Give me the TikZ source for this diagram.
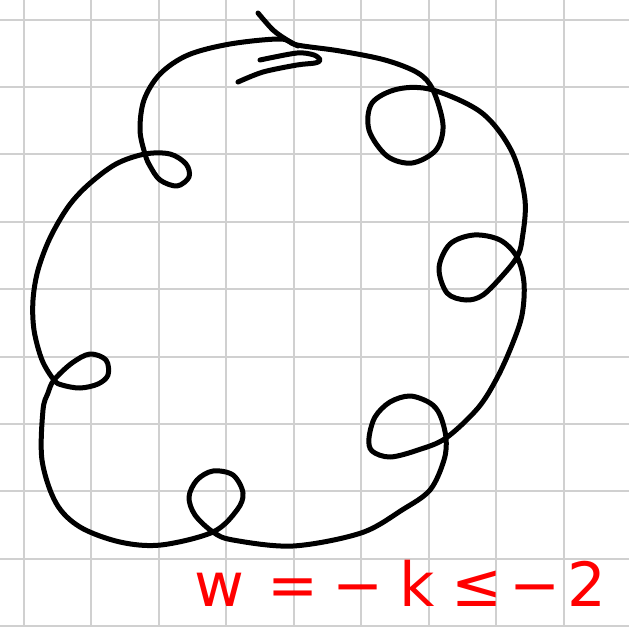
\documentclass[tikz,border=0pt]{standalone}
\usepackage{fontspec}
\newfontfamily\handfont{DejaVu Sans}
\definecolor{gridgray}{HTML}{D0D0D0}
\definecolor{inkred}{HTML}{FF0000}
\begin{document}
\begin{tikzpicture}[x=1pt,y=-1pt,
  ink/.style={line width=5pt, line cap=round, line join=round},
  gridline/.style={gridgray, line width=2pt}]
\useasboundingbox (0,0) rectangle (629,627);
\fill[white] (0,0) rectangle (629,627);
\foreach \i in {0,...,8} \draw[gridline] ({24+67.45*\i},0) -- ({24+67.45*\i},627);
\foreach \j in {0,...,9} \draw[gridline] (0,{19.5+67.4*\j}) -- (629,{19.5+67.4*\j});
% the knot diagram
\draw[ink] plot[smooth cycle, tension=0.55] coordinates {(297,45) (340,51) (385,60) (418,73) (433,90) (443,125) (436,150) (412,163) (387,156) (369,130) (372,103) (398,89) (433,90) (482,113) (512,152) (525,200) (522,240) (517,257) (503,275) (483,295) (466,300) (447,293) (439,268) (450,244) (474,235) (500,240) (517,257) (524,283) (522,315) (512,345) (497,378) (478,408) (446,438) (418,450) (390,457) (372,451) (369,438) (375,417) (390,402) (410,396) (430,403) (440,415) (446,438) (444,460) (430,490) (402,510) (361,533) (293,546) (233,540) (213,532) (195,515) (189,497) (197,480) (213,471) (233,475) (243,493) (237,510) (213,532) (161,545) (120,542) (80,527) (56,503) (42,460) (43,410) (48,393) (54,380) (72,363) (90,354) (106,360) (108,375) (98,384) (80,388) (62,385) (54,380) (42,360) (34,330) (33,300) (38,270) (50,238) (68,207) (88,185) (116,164) (145,154) (170,154) (186,164) (189,177) (177,186) (160,180) (150,166) (145,154) (140,130) (144,100) (160,74) (188,55) (230,44) (280,39)};
% arrow head
\draw[ink] plot[smooth] coordinates {(258,13) (273,30) (287,40) (298,46)};
\draw[ink] plot[smooth] coordinates {(260,60) (297,53) (314,55) (320,60) (315,63) (297,65) (263,72) (238,82)};
% label
\node[inkred, anchor=base west, inner sep=0pt, font=\handfont\fontsize{61}{64}\selectfont] (label) at (179,606) {\makebox[80pt]{w}\makebox[68.5pt]{=}\makebox[60pt]{−}\makebox[59.5pt]{k}\makebox[60pt]{≤}\makebox[55.5pt]{−}\makebox[47.5pt]{2}};
\end{tikzpicture}
\end{document}
